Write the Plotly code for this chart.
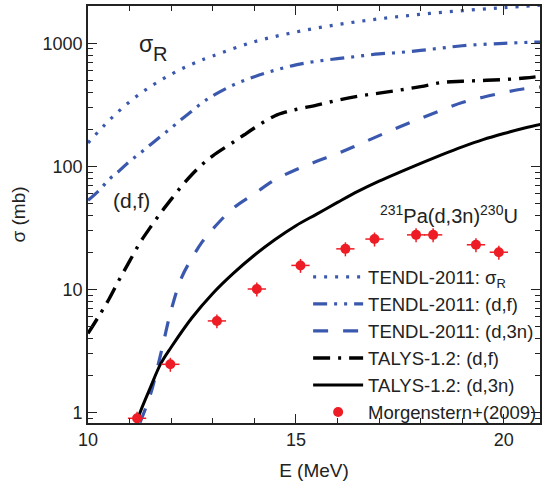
import plotly.graph_objects as go

# ---- data ----
E_sigR = [10.0, 10.5, 11.0, 11.5, 12.0, 12.5, 13.0, 14.0, 15.0, 16.0, 17.0, 18.0, 19.0, 20.0, 20.9]
sigR = [155, 235, 335, 445, 560, 678, 790, 1030, 1235, 1420, 1580, 1720, 1840, 1950, 2040]

E_df_tendl = [10.0, 10.25, 10.5, 10.75, 11.0, 11.25, 11.5, 11.75, 12.0, 12.25, 12.5, 12.75, 13.0,
              13.5, 14.0, 14.5, 15.0, 15.5, 16.0, 16.5, 17.0, 17.5, 18.0, 18.5, 19.0, 20.0, 20.9]
df_tendl = [53, 63, 78, 92, 110, 128, 150, 176, 205, 242, 282, 330, 375,
            460, 535, 605, 668, 715, 750, 785, 820, 843, 875, 915, 955, 1000, 1025]

E_d3n_tendl = [11.25, 11.5, 11.75, 12.0, 12.25, 12.5, 12.75, 13.0, 13.5, 14.0, 14.5, 15.0, 15.5,
               16.0, 16.5, 17.0, 17.5, 18.0, 18.5, 19.0, 19.5, 20.0, 20.5, 20.9]
d3n_tendl = [0.83, 1.4, 3.0, 6.8, 12.5, 18, 24.5, 31, 46, 60, 78, 94, 110,
             127, 150, 178, 210, 246, 286, 330, 365, 398, 428, 442]

E_df_talys = [10.0, 10.25, 10.5, 10.75, 11.0, 11.25, 11.5, 11.75, 12.0, 12.25, 12.5, 12.75, 13.0,
              13.5, 13.75, 14.0, 14.25, 14.5, 14.75, 15.0, 15.5, 16.0, 16.5, 17.0, 17.5, 18.0,
              18.5, 19.0, 19.5, 20.0, 20.5, 20.9]
df_talys = [4.4, 6.0, 8.3, 12, 17, 24, 32, 42, 54, 69, 86, 104, 122,
            158, 180, 205, 232, 258, 276, 290, 315, 345, 372, 394, 417, 445,
            480, 492, 499, 508, 522, 540]

E_d3n_talys = [11.17, 11.25, 11.5, 11.75, 12.0, 12.5, 13.0, 13.5, 14.0, 14.5, 15.0, 15.5, 16.0,
               16.5, 17.0, 17.5, 18.0, 18.5, 19.0, 19.5, 20.0, 20.5, 20.9]
d3n_talys = [0.825, 1.0, 1.6, 2.5, 3.4, 5.9, 9.3, 13.6, 19, 25.5, 33, 41, 51,
             63, 76, 90, 106, 124, 144, 165, 185, 205, 220]

E_exp = [11.18, 11.98, 13.10, 14.06, 15.11, 16.19, 16.89, 17.89, 18.30, 19.33, 19.88]
sig_exp = [0.90, 2.47, 5.56, 10.1, 15.7, 21.4, 25.7, 27.8, 27.8, 23.1, 20.1]
E_err = [0.22] * len(E_exp)
sig_err_pct = 13

# ---- styling ----
BLUE = "#3a58ad"
RED = "#ee1d25"
FONT = "Liberation Sans, Arial, sans-serif"

fig = go.Figure()
fig.add_trace(go.Scatter(x=E_sigR, y=sigR, mode="lines", line_shape="spline",
                         name="TENDL-2011: σ<sub>R</sub>",
                         line=dict(color=BLUE, width=3.2, dash="3px,8px")))
fig.add_trace(go.Scatter(x=E_df_tendl, y=df_tendl, mode="lines", line_shape="spline",
                         name="TENDL-2011: (d,f)",
                         line=dict(color=BLUE, width=3.2, dash="14px,7px,3px,7px,3px,7px")))
fig.add_trace(go.Scatter(x=E_d3n_tendl, y=d3n_tendl, mode="lines", line_shape="spline",
                         name="TENDL-2011: (d,3n)",
                         line=dict(color=BLUE, width=3.2, dash="15px,15px")))
fig.add_trace(go.Scatter(x=E_df_talys, y=df_talys, mode="lines", line_shape="spline",
                         name="TALYS-1.2: (d,f)",
                         line=dict(color="black", width=3.4, dash="17px,8px,3px,8px")))
fig.add_trace(go.Scatter(x=E_d3n_talys, y=d3n_talys, mode="lines", line_shape="spline",
                         name="TALYS-1.2: (d,3n)",
                         line=dict(color="black", width=3)))
fig.add_trace(go.Scatter(x=E_exp, y=sig_exp, mode="markers",
                         name="Morgenstern+(2009)",
                         marker=dict(color=RED, size=10),
                         error_x=dict(type="data", array=E_err, color=RED, thickness=1.5, width=0),
                         error_y=dict(type="percent", value=sig_err_pct, color=RED, thickness=1.5, width=0)))

minor_y = [m * 10 ** k for k in range(-1, 4) for m in range(2, 10)]

fig.update_layout(
    width=545, height=485,
    margin=dict(l=88, r=3, t=6, b=62),
    paper_bgcolor="white", plot_bgcolor="white",
    font=dict(family=FONT, color="#222222", size=18),
    showlegend=True,
    legend=dict(x=0.487, y=0.395, xanchor="left", yanchor="top",
                bgcolor="rgba(0,0,0,0)", font=dict(size=18.5, family=FONT, color="#222222"),
                itemwidth=50, tracegroupgap=0),
    xaxis=dict(range=[10, 20.87], tickvals=[10, 15, 20], ticks="inside", ticklen=9,
               tickwidth=1.3, tickcolor="#222222",
               minor=dict(dtick=1, ticks="inside", ticklen=5, tickwidth=1.3, tickcolor="#222222"),
               showline=True, linecolor="#222222", linewidth=1.6, mirror="ticks",
               showgrid=False, zeroline=False,
               tickfont=dict(size=18),
               title=dict(text="E (MeV)", font=dict(size=19), standoff=14)),
    yaxis=dict(type="log", range=[-0.084, 3.303], tickvals=[1, 10, 100, 1000],
               ticktext=["1", "10", "100", "1000"], ticks="inside", ticklen=9,
               tickwidth=1.3, tickcolor="#222222",
               minor=dict(tickvals=minor_y, ticks="inside", ticklen=5, tickwidth=1.3,
                          tickcolor="#222222"),
               showline=True, linecolor="#222222", linewidth=1.6, mirror="ticks",
               showgrid=False, zeroline=False,
               tickfont=dict(size=18),
               title=dict(text="σ (mb)", font=dict(size=19), standoff=12)),
)

fig.add_annotation(x=11.40, y=2.998, text="σ", showarrow=False,
                   font=dict(size=23, family=FONT, color="#222222"))
fig.add_annotation(x=11.74, y=2.915, text="R", showarrow=False,
                   font=dict(size=20, family=FONT, color="#222222"))
fig.add_annotation(x=11.04, y=1.721, text="(d,f)", showarrow=False,
                   font=dict(size=21, family=FONT, color="#222222"))
fig.add_annotation(x=18.67, y=1.607, text="<sup>231</sup>Pa(d,3n)<sup>230</sup>U", showarrow=False,
                   font=dict(size=20, family=FONT, color="#222222"))

fig.write_html("out.html", config={"displayModeBar": False},
               post_script="document.body.style.margin='0px';")
